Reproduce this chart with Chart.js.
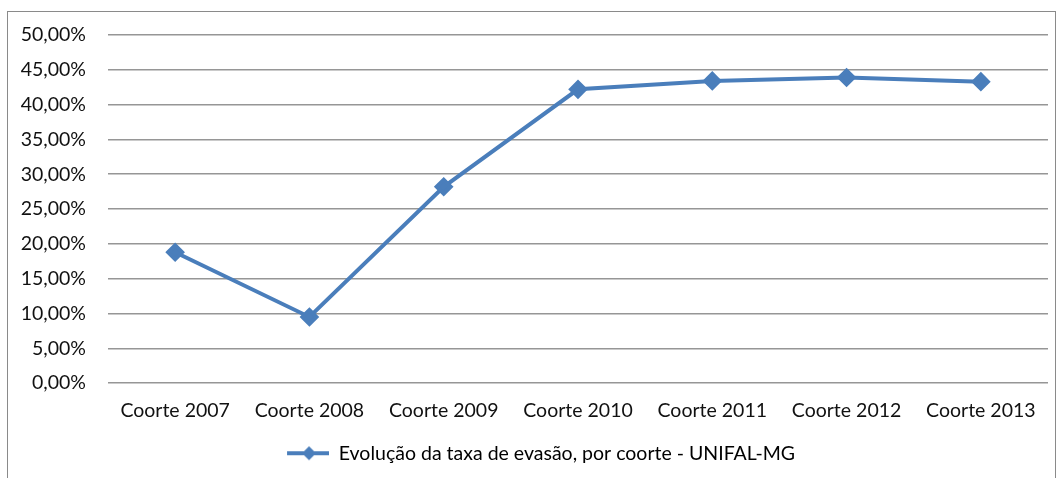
<!DOCTYPE html>
<html>
<head>
<meta charset="utf-8">
<script src="https://cdn.jsdelivr.net/npm/chart.js@4"></script>
<style>
  html, body { margin: 0; padding: 0; background: #fff; overflow: hidden; }
  body { width: 1062px; height: 478px; position: relative; }
  #frame {
    position: absolute; left: 7px; top: 11px; width: 1049px; height: 500px;
    border: 1.5px solid #8a8a8a; box-sizing: border-box;
  }
  #taxa { position: absolute; left: 0; top: 0; }
</style>
</head>
<body>
<div id="frame"></div>
<canvas id="taxa" width="1062" height="510"></canvas>
<script>
/* taxa de evasão por coorte */
const coortes = [
  "Coorte 2007",
  "Coorte 2008",
  "Coorte 2009",
  "Coorte 2010",
  "Coorte 2011",
  "Coorte 2012",
  "Coorte 2013",
];
const evasao = [18.8, 9.5, 28.2, 42.2, 43.4, 43.9, 43.3];
const serieNome = "Evolução da taxa de evasão, por coorte - UNIFAL-MG";

const azul = "#4a7ebb";
const fonte = "Lato, 'Open Sans', sans-serif";
const tam = 19.5;

// legend sample: line with a diamond on it (blank space on the left nudges the item right)
const amostra = document.createElement("canvas");
amostra.width = 76;
amostra.height = 16;
(function () {
  const c = amostra.getContext("2d");
  c.strokeStyle = azul;
  c.lineWidth = 4;
  c.beginPath();
  c.moveTo(34, 8);
  c.lineTo(76, 8);
  c.stroke();
  c.fillStyle = azul;
  c.beginPath();
  c.moveTo(56, 1);
  c.lineTo(63, 8);
  c.lineTo(56, 15);
  c.lineTo(49, 8);
  c.closePath();
  c.fill();
})();

new Chart(document.getElementById("taxa"), {
  type: "line",
  data: {
    labels: coortes,
    datasets: [
      {
        label: serieNome,
        data: evasao,
        borderColor: azul,
        backgroundColor: azul,
        borderWidth: 4,
        tension: 0,
        pointStyle: "rectRot",
        pointRadius: 7,
        pointHoverRadius: 7,
        pointBackgroundColor: azul,
        pointBorderColor: azul,
      },
    ],
  },
  options: {
    responsive: false,
    animation: false,
    layout: {
      padding: { top: 35, right: 14, bottom: 37, left: 0 },
    },
    plugins: {
      tooltip: { enabled: false },
      legend: {
        position: "bottom",
        labels: {
          usePointStyle: true,
          pointStyleWidth: 76,
          padding: 13,
          color: "#111",
          font: { family: fonte, size: tam },
          generateLabels: (chart) => [
            {
              text: serieNome,
              pointStyle: amostra,
              fillStyle: azul,
              strokeStyle: azul,
              lineWidth: 0,
              datasetIndex: 0,
            },
          ],
        },
      },
    },
    scales: {
      x: {
        offset: true,
        grid: { display: false },
        border: { display: false },
        ticks: {
          padding: 8,
          color: "#111",
          font: { family: fonte, size: tam },
          maxRotation: 0,
        },
      },
      y: {
        min: 0,
        max: 50,
        afterFit: (scale) => {
          scale.width = 108;
        },
        grid: {
          color: "#969696",
          lineWidth: 1.5,
          drawTicks: false,
        },
        border: { display: false },
        ticks: {
          stepSize: 5,
          padding: 22,
          color: "#111",
          font: { family: fonte, size: tam },
          callback: (v) => v.toFixed(2).replace(".", ",") + "%",
        },
      },
    },
  },
});
</script>
</body>
</html>
